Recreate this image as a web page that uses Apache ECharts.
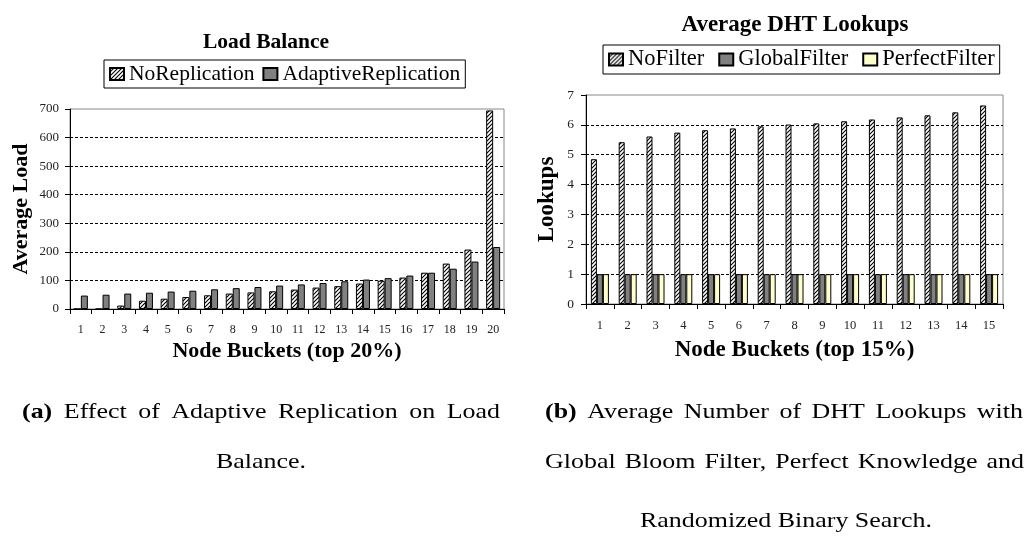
<!DOCTYPE html>
<html>
<head>
<meta charset="utf-8">
<script src="https://cdn.jsdelivr.net/npm/echarts@6/dist/echarts.min.js"></script>
<style>
  html, body { margin: 0; padding: 0; background: #fff; }
  #chart { width: 1025px; height: 540px; }
</style>
</head>
<body>
<div id="chart"></div>
<script>
// ---- Load balance (left panel) ----
const loadBuckets = ['1','2','3','4','5','6','7','8','9','10','11','12','13','14','15','16','17','18','19','20'];
const noReplication = [0, 0, 12, 29, 36, 42, 48, 54, 58, 62, 68, 75, 80, 89, 99, 110, 127, 159, 208, 695];
const adaptiveReplication = [47, 50, 54, 57, 61, 64, 69, 73, 77, 82, 86, 91, 97, 103, 108, 117, 127, 141, 166, 217];
const loadTicks = { min: 0, max: 700, interval: 100 };

// ---- DHT lookups (right panel) ----
const lookupBuckets = ['1','2','3','4','5','6','7','8','9','10','11','12','13','14','15'];
const noFilter = [4.85, 5.42, 5.61, 5.74, 5.82, 5.88, 5.95, 6.01, 6.05, 6.12, 6.18, 6.25, 6.32, 6.42, 6.65];
const globalFilter = [1, 1, 1, 1, 1, 1, 1, 1, 1, 1, 1, 1, 1, 1, 1];
const perfectFilter = [1, 1, 1, 1, 1, 1, 1, 1, 1, 1, 1, 1, 1, 1, 1];
const lookupTicks = { min: 0, max: 7, interval: 1 };

const SERIF = '"Liberation Serif", "Times New Roman", serif';

// diagonal hatch fill
function hatchPattern() {
  const c = document.createElement('canvas');
  c.width = 4; c.height = 4;
  const g = c.getContext('2d');
  g.fillStyle = '#fff';
  g.fillRect(0, 0, 4, 4);
  g.strokeStyle = '#000';
  g.lineWidth = 1.1;
  g.beginPath();
  g.moveTo(0, 4); g.lineTo(4, 0);
  g.moveTo(-1, 1); g.lineTo(1, -1);
  g.moveTo(3, 5); g.lineTo(5, 3);
  g.stroke();
  return { image: c, repeat: 'repeat' };
}
const hatch = hatchPattern();

function valueAxis(gridIndex, ticks, name, gap, nameSize, labelSize, labelMargin) {
  return {
    type: 'value', gridIndex: gridIndex,
    min: ticks.min, max: ticks.max, interval: ticks.interval,
    name: name, nameLocation: 'middle', nameGap: gap,
    nameTextStyle: { fontFamily: SERIF, fontWeight: 'bold', fontSize: nameSize, color: '#000' },
    axisLine: { show: true, lineStyle: { color: '#000', width: 1 } },
    axisTick: { show: true, inside: false, length: 5, lineStyle: { color: '#000' } },
    axisLabel: { fontFamily: SERIF, fontSize: labelSize, color: '#222', margin: labelMargin },
    splitLine: { show: true, showMinLine: false, showMaxLine: false,
      lineStyle: { color: '#000', type: [3, 2], width: 1 } }
  };
}
function catAxis(gridIndex, data, name, gap, nameSize, labelSize) {
  return {
    type: 'category', gridIndex: gridIndex, data: data,
    name: name, nameLocation: 'middle', nameGap: gap,
    nameTextStyle: { fontFamily: SERIF, fontWeight: 'bold', fontSize: nameSize, color: '#000' },
    axisLine: { show: true, lineStyle: { color: '#000', width: 1 } },
    axisTick: { show: true, inside: false, length: 5, alignWithLabel: false, lineStyle: { color: '#000' } },
    axisLabel: { fontFamily: SERIF, fontSize: labelSize, color: '#222', margin: 15, interval: 0 },
    splitLine: { show: false }
  };
}
const barBorder = { borderColor: '#000', borderWidth: 1 };

// ---- figure captions, set as justified lines ----
const CAP_SIZE = 22;
const CAP_SCALE = 1.18;
const measureCtx = document.createElement('canvas').getContext('2d');
function capFont(bold) { return (bold ? 'bold ' : '') + CAP_SIZE + 'px ' + SERIF; }
function wordWidth(w, bold) {
  measureCtx.font = capFont(bold);
  return measureCtx.measureText(w).width * CAP_SCALE;
}
// words: array of [text, bold]
function justifiedLine(words, x0, x1, y) {
  const widths = words.map(w => wordWidth(w[0], w[1]));
  const total = widths.reduce((a, b) => a + b, 0);
  const gap = (x1 - x0 - total) / (words.length - 1);
  const out = [];
  let x = x0;
  words.forEach((w, i) => {
    out.push({ type: 'text', x: x, y: y, scaleX: CAP_SCALE, silent: true,
      style: { text: w[0], font: capFont(w[1]), fill: '#000', align: 'left', verticalAlign: 'middle' } });
    x += widths[i] + gap;
  });
  return out;
}
function centeredLine(text, cx, y) {
  return [{ type: 'text', x: cx, y: y, scaleX: CAP_SCALE, silent: true,
    style: { text: text, font: capFont(false), fill: '#000', align: 'center', verticalAlign: 'middle' } }];
}
function words(str, boldFirst) {
  return str.split(' ').map((w, i) => [w, boldFirst && i === 0]);
}
const captions = [].concat(
  justifiedLine(words('(a) Effect of Adaptive Replication on Load', true), 22, 500, 412),
  centeredLine('Balance.', 261, 462),
  justifiedLine(words('(b) Average Number of DHT Lookups with', true), 545, 1023, 412),
  justifiedLine(words('Global Bloom Filter, Perfect Knowledge and', false), 545, 1024, 462),
  centeredLine('Randomized Binary Search.', 786, 521)
);

const chart = echarts.init(document.getElementById('chart'), null, { renderer: 'canvas' });
chart.setOption({
  backgroundColor: '#fff',
  animation: false,
  title: [
    { text: 'Load Balance', left: 261, top: 26, textAlign: 'center',
      textStyle: { fontFamily: SERIF, fontWeight: 'bold', fontSize: 21.5, color: '#000' } },
    { text: 'Average DHT Lookups', left: 790, top: 9, textAlign: 'center',
      textStyle: { fontFamily: SERIF, fontWeight: 'bold', fontSize: 23, color: '#000' } }
  ],
  legend: [
    { data: ['NoReplication', 'AdaptiveReplication'], left: 104, top: 60,
      orient: 'horizontal', itemGap: 8, itemWidth: 14, itemHeight: 12,
      padding: [3, 5, 3, 5], borderColor: '#000', borderWidth: 1,
      textStyle: { fontFamily: SERIF, fontSize: 21.5, color: '#000' }, icon: 'rect' },
    { data: ['NoFilter', 'GlobalFilter', 'PerfectFilter'], left: 603, top: 45,
      orient: 'horizontal', itemGap: 14, itemWidth: 14, itemHeight: 12,
      padding: [3, 5, 3, 5], borderColor: '#000', borderWidth: 1,
      textStyle: { fontFamily: SERIF, fontSize: 22.5, color: '#000' }, icon: 'rect' }
  ],
  grid: [
    { left: 70, top: 109, width: 434, height: 200, show: true, borderColor: '#888', borderWidth: 1, backgroundColor: 'transparent' },
    { left: 586, top: 95, width: 417, height: 209, show: true, borderColor: '#888', borderWidth: 1, backgroundColor: 'transparent' }
  ],
  xAxis: [
    catAxis(0, loadBuckets, 'Node Buckets (top 20%)', 31, 22, 12),
    catAxis(1, lookupBuckets, 'Node Buckets (top 15%)', 35, 23, 12.5)
  ],
  yAxis: [
    valueAxis(0, loadTicks, 'Average Load', 38, 22, 13, 11),
    valueAxis(1, lookupTicks, 'Lookups', 27, 23, 13.5, 12)
  ],
  series: [
    { name: 'NoReplication', type: 'bar', xAxisIndex: 0, yAxisIndex: 0, data: noReplication,
      barWidth: 7, barGap: '0%', itemStyle: Object.assign({ color: hatch }, barBorder) },
    { name: 'AdaptiveReplication', type: 'bar', xAxisIndex: 0, yAxisIndex: 0, data: adaptiveReplication,
      barWidth: 7, barGap: '0%', itemStyle: Object.assign({ color: '#808080' }, barBorder) },
    { name: 'NoFilter', type: 'bar', xAxisIndex: 1, yAxisIndex: 1, data: noFilter,
      barWidth: 6, barGap: '0%', itemStyle: Object.assign({ color: hatch }, barBorder) },
    { name: 'GlobalFilter', type: 'bar', xAxisIndex: 1, yAxisIndex: 1, data: globalFilter,
      barWidth: 6, barGap: '0%', itemStyle: Object.assign({ color: '#808080' }, barBorder) },
    { name: 'PerfectFilter', type: 'bar', xAxisIndex: 1, yAxisIndex: 1, data: perfectFilter,
      barWidth: 6, barGap: '0%', itemStyle: Object.assign({ color: '#FFFFCC' }, barBorder) }
  ],
  graphic: captions
});
</script>
</body>
</html>
